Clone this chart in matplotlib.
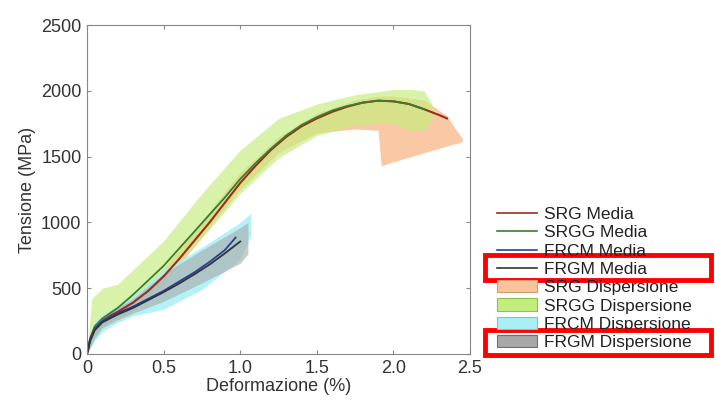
import matplotlib
matplotlib.use('Agg')
import matplotlib.pyplot as plt
from matplotlib.lines import Line2D
from matplotlib.patches import Patch, Rectangle

plt.rcParams['font.family'] = ['Liberation Sans', 'DejaVu Sans']

# mean curves (strain %, stress MPa)
srg_x = [0, 0.02, 0.05, 0.1, 0.15, 0.2, 0.3, 0.4, 0.5, 0.6, 0.7, 0.8, 0.9, 1.0, 1.1,
         1.2, 1.3, 1.4, 1.5, 1.6, 1.7, 1.8, 1.9, 2.0, 2.1, 2.2, 2.3, 2.35]
srg_y = [0, 100, 190, 250, 290, 320, 390, 480, 590, 720, 860, 1000, 1150, 1300, 1430,
         1550, 1650, 1730, 1790, 1840, 1880, 1910, 1925, 1920, 1900, 1860, 1815, 1790]
srgg_x = [0, 0.02, 0.05, 0.1, 0.15, 0.2, 0.3, 0.4, 0.5, 0.6, 0.7, 0.8, 0.9, 1.0, 1.1,
          1.2, 1.3, 1.4, 1.5, 1.6, 1.7, 1.8, 1.9, 2.0, 2.1, 2.2]
srgg_y = [0, 120, 210, 270, 310, 350, 450, 560, 670, 800, 930, 1060, 1190, 1330, 1450,
          1560, 1660, 1740, 1800, 1850, 1885, 1910, 1925, 1920, 1900, 1860]
frcm_x = [0, 0.02, 0.05, 0.1, 0.2, 0.3, 0.4, 0.5, 0.6, 0.7, 0.8, 0.9, 0.97]
frcm_y = [0, 110, 190, 250, 310, 360, 420, 480, 550, 620, 700, 790, 885]
frgm_x = [0, 0.02, 0.05, 0.1, 0.2, 0.3, 0.4, 0.5, 0.6, 0.7, 0.8, 0.9, 1.0]
frgm_y = [0, 100, 180, 240, 300, 350, 410, 470, 535, 605, 680, 765, 855]

# dispersion bands
srg_bx = [0, 0.05, 0.1, 0.2, 0.3, 0.5, 0.75, 1.0, 1.25, 1.5, 1.75, 1.9, 1.92, 2.0, 2.2,
          2.35, 2.41, 2.45]
srg_hi = [0, 230, 290, 360, 440, 650, 1010, 1380, 1650, 1830, 1930, 1960, 1960, 1960,
          1930, 1810, 1700, 1640]
srg_lo = [0, 150, 210, 270, 330, 530, 890, 1250, 1530, 1680, 1710, 1700, 1430, 1460,
          1530, 1580, 1600, 1615]
srgg_bx = [0, 0.03, 0.1, 0.2, 0.3, 0.4, 0.5, 0.75, 1.0, 1.25, 1.5, 1.75, 2.0, 2.1, 2.2,
           2.26]
srgg_hi = [0, 420, 500, 530, 640, 750, 860, 1220, 1550, 1790, 1900, 1970, 2010, 2010,
           2000, 1880]
srgg_lo = [0, 120, 220, 290, 360, 450, 560, 880, 1220, 1490, 1660, 1740, 1760, 1700,
           1700, 1800]
frcm_bx = [0, 0.05, 0.1, 0.2, 0.3, 0.5, 0.75, 1.0, 1.07]
frcm_hi = [0, 250, 300, 370, 440, 640, 810, 1000, 1070]
frcm_lo = [0, 100, 170, 240, 290, 340, 490, 720, 900]
frgm_bx = [0, 0.05, 0.1, 0.2, 0.3, 0.5, 0.75, 1.0, 1.05]
frgm_hi = [0, 220, 280, 350, 420, 610, 790, 960, 1000]
frgm_lo = [0, 120, 200, 260, 310, 400, 540, 690, 760]

labels = ['SRG Media', 'SRGG Media', 'FRCM Media', 'FRGM Media',
          'SRG Dispersione', 'SRGG Dispersione', 'FRCM Dispersione', 'FRGM Dispersione']
line_colors = ['#9b2d1c', '#3a7d32', '#2a3f9c', '#333333']
band_colors = ['#f9c49c', '#c4ee7c', '#a8f0f6', '#a8a8a8']
band_edges = ['#d99a70', '#8fc050', '#70c8d0', '#707070']

fig = plt.figure(figsize=(7.15, 4.0), dpi=100)
ax = fig.add_axes([0.1217, 0.115, 0.5357, 0.8225])

ax.fill_between(srg_bx, srg_lo, srg_hi, color=band_colors[0], lw=0, alpha=0.9)
ax.fill_between(srgg_bx, srgg_lo, srgg_hi, color=band_colors[1], lw=0, alpha=0.65)
ax.fill_between(frcm_bx, frcm_lo, frcm_hi, color=band_colors[2], lw=0, alpha=0.85)
ax.fill_between(frgm_bx, frgm_lo, frgm_hi, color=band_colors[3], lw=0, alpha=0.6)

ax.plot(srg_x, srg_y, color=line_colors[0], lw=1.5)
ax.plot(srgg_x, srgg_y, color=line_colors[1], lw=1.3)
ax.plot(frcm_x, frcm_y, color=line_colors[2], lw=1.3)
ax.plot(frgm_x, frgm_y, color=line_colors[3], lw=1.3)

ax.set_xlim(0, 2.5)
ax.set_ylim(0, 2500)
ax.set_xticks([0, 0.5, 1.0, 1.5, 2.0, 2.5])
ax.set_xticklabels(['0', '0.5', '1.0', '1.5', '2.0', '2.5'])
ax.set_yticks([0, 500, 1000, 1500, 2000, 2500])
ax.tick_params(direction='in', top=True, right=True, length=3, color='#888888',
               labelsize=13, labelcolor='#333333', pad=4)
for s in ax.spines.values():
    s.set_color('#888888')
ax.set_xlabel('Deformazione (%)', fontsize=13, color='#333333', labelpad=1)
ax.set_ylabel('Tensione (MPa)', fontsize=13, color='#333333', labelpad=4)

handles = [Line2D([], [], color=c, lw=1.2) for c in line_colors]
handles += [Patch(facecolor=f, edgecolor=e, lw=0.8) for f, e in zip(band_colors, band_edges)]
fig.legend(handles, labels, loc='upper left', bbox_to_anchor=(0.695, 0.4825),
           frameon=False, fontsize=12.5, labelspacing=0.18, handlelength=2.3,
           handleheight=0.7, handletextpad=0.4, borderaxespad=0, borderpad=0,
           labelcolor='#222222')

# red highlight boxes
for y0 in [0.30, 0.1125]:
    fig.add_artist(Rectangle((0.679, y0), 0.316, 0.0625, transform=fig.transFigure,
                             fill=False, edgecolor='#ff0000', lw=3.5))

fig.savefig('out.png', dpi=100)
